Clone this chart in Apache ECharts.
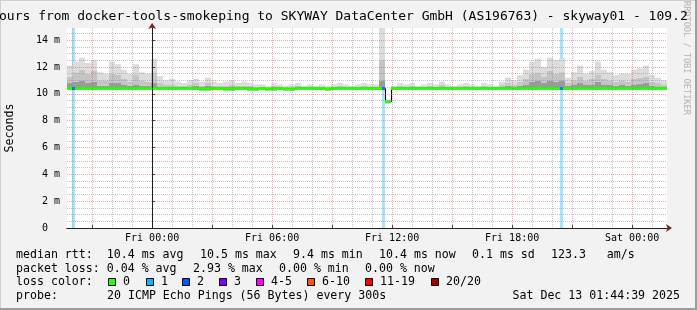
<!DOCTYPE html>
<html><head><meta charset="utf-8">
<script src="https://cdn.jsdelivr.net/npm/echarts@6/dist/echarts.min.js"></script>
<style>html,body{margin:0;padding:0;background:#f2f2f2}#c{width:697px;height:310px}</style>
</head><body><div id="c"></div>
<script>
// ---- data ----
const startHour = -4.2558;          // Thu 19:44:39, hours relative to Fri 00:00
const spanHours = 30;
const stepHours = 0.3;
const xLabelHours = [0, 6, 12, 18, 24];
const xLabelTexts = ['Fri 00:00', 'Fri 06:00', 'Fri 12:00', 'Fri 18:00', 'Sat 00:00'];
const yLabelValues = [0, 2, 4, 6, 8, 10, 12, 14];
const yLabelTexts = ['0  ', '2 m', '4 m', '6 m', '8 m', '10 m', '12 m', '14 m'];
const yMax = 14.9;

const median = [
 10.4,10.4,10.4,10.4,10.4,10.4,10.4,10.4,10.4,10.4,
 10.4,10.4,10.4,10.4,10.4,10.4,10.4,10.4,10.4,10.4,
 10.4,10.4,10.35,10.35,10.4,10.4,10.35,10.35,10.4,10.4,
 10.35,10.35,10.4,10.35,10.35,10.4,10.35,10.35,10.4,10.4,
 10.4,10.4,10.4,10.35,10.4,10.4,10.4,10.4,10.4,10.4,
 10.4,10.4,10.4,9.4,10.4,10.4,10.4,10.4,10.4,10.4,
 10.4,10.4,10.4,10.4,10.4,10.4,10.4,10.4,10.4,10.4,
 10.4,10.4,10.4,10.4,10.4,10.4,10.4,10.4,10.4,10.4,
 10.4,10.4,10.4,10.4,10.4,10.4,10.4,10.4,10.4,10.4,
 10.4,10.4,10.4,10.4,10.4,10.4,10.4,10.4,10.4,10.4];
const smokeLo = [
 10.3,10.3,10.3,10.3,10.3,10.3,10.3,10.3,10.3,10.3,
 10.3,10.3,10.3,10.3,10.3,10.3,10.3,10.3,10.3,10.3,
 10.3,10.3,10.25,10.25,10.3,10.3,10.25,10.25,10.3,10.3,
 10.25,10.25,10.3,10.25,10.25,10.3,10.25,10.25,10.3,10.3,
 10.3,10.3,10.3,10.25,10.3,10.3,10.3,10.3,10.3,10.3,
 10.3,10.3,10.3,9.3,10.3,10.3,10.3,10.3,10.3,10.3,
 10.3,10.3,10.3,10.3,10.3,10.3,10.3,10.3,10.3,10.3,
 10.3,10.3,10.3,10.3,10.3,10.3,10.3,10.3,10.3,10.3,
 10.3,10.3,10.3,10.3,10.3,10.3,10.3,10.3,10.3,10.3,
 10.3,10.3,10.3,10.3,10.3,10.3,10.3,10.3,10.3,10.3];
const smokeDark = [
 10.8,10.9,11.0,10.8,10.9,10.6,10.6,10.8,10.8,10.7,
 10.6,10.7,10.6,10.6,10.8,10.5,10.5,10.5,10.5,10.5,
 10.55,10.6,10.5,10.6,10.5,10.5,10.5,10.55,10.5,10.5,
 10.5,10.45,10.45,10.45,10.5,10.45,10.45,10.45,10.5,10.45,
 10.45,10.45,10.45,10.45,10.45,10.5,10.45,10.45,10.45,10.5,
 10.45,10.45,11.0,9.45,10.45,10.5,10.45,10.5,10.45,10.45,
 10.5,10.45,10.5,10.45,10.45,10.45,10.5,10.45,10.45,10.5,
 10.45,10.45,10.5,10.6,10.55,10.6,10.7,10.9,11.0,10.8,
 11.0,10.9,11.0,10.6,10.7,10.8,10.7,10.7,10.9,10.7,
 10.7,10.6,10.7,10.6,10.7,10.75,10.8,10.6,10.55,10.5];
const smokeMid = [
 11.3,11.6,11.8,11.5,11.7,11.0,11.0,11.5,11.4,11.1,
 10.9,11.4,11.0,10.9,11.6,10.8,10.7,10.7,10.6,10.6,
 10.7,10.8,10.6,10.8,10.6,10.6,10.6,10.7,10.6,10.6,
 10.6,10.55,10.55,10.5,10.6,10.55,10.5,10.55,10.6,10.5,
 10.55,10.5,10.55,10.5,10.55,10.6,10.55,10.5,10.55,10.6,
 10.55,10.55,12.5,9.5,10.5,10.6,10.55,10.6,10.5,10.55,
 10.6,10.55,10.65,10.55,10.5,10.55,10.6,10.55,10.5,10.6,
 10.55,10.5,10.65,10.8,10.7,10.9,11.1,11.5,11.6,11.3,
 11.7,11.5,11.6,10.8,11.0,11.3,11.0,11.1,11.4,11.1,
 11.0,10.9,11.0,10.9,11.1,11.2,11.3,10.9,10.8,10.7];
const smokeHi = [
 12.1,12.4,12.7,12.3,12.5,11.6,11.5,12.4,12.2,11.8,
 11.5,12.2,11.6,11.5,12.6,11.3,11.0,11.1,10.9,10.8,
 11.0,11.1,10.9,11.2,10.9,10.8,10.9,11.0,10.8,10.9,
 10.8,10.7,10.7,10.6,10.8,10.7,10.6,10.7,10.8,10.6,
 10.7,10.6,10.7,10.6,10.7,10.8,10.7,10.6,10.7,10.8,
 10.7,10.7,15.0,9.6,10.6,10.8,10.7,10.8,10.6,10.7,
 10.8,10.7,10.9,10.7,10.6,10.7,10.8,10.7,10.6,10.8,
 10.7,10.6,10.9,11.2,11.0,11.4,11.8,12.4,12.6,12.0,
 12.7,12.5,12.65,11.2,11.6,12.1,11.5,11.7,12.4,11.8,
 11.6,11.4,11.5,11.5,11.8,11.9,12.1,11.4,11.2,11.0];
const lossEvents = [[-4.0058, -3.8558], [11.494, 11.644], [20.394, 20.544]];
const lossMedian = [10.4, 10.4, 10.4];

const titleText = 'ours from docker-tools-smokeping to SKYWAY DataCenter GmbH (AS196763) - skyway01 - 109.2';
const legendRow1 = [[16, 'median rtt:  10.4 ms avg'], [200, '10.5 ms max'], [293, '9.4 ms min'], [379, '10.4 ms now'], [472, '0.1 ms sd'], [551, '123.3   am/s']];
const legendRow2 = [[16, 'packet loss: 0.04 % avg'], [193, '2.93 % max'], [279, '0.00 % min'], [365, '0.00 % now']];
const lossLabels = ['0', '1', '2', '3', '4-5', '6-10', '11-19', '20/20'];
const lossColors = ['#26ff00', '#00b8ff', '#0059ff', '#7e00ff', '#ff00ff', '#ff5500', '#ff0000', '#a00000'];
const lossBoxX = [108, 146, 182, 219, 256, 307, 365, 431];
const probeText = '20 ICMP Echo Pings (56 Bytes) every 300s';
const dateText = 'Sat Dec 13 01:44:39 2025';

// ---- build ----
const MONO = '"DejaVu Sans Mono", monospace';
const endHour = startHour + spanHours;
const times = median.map((_, i) => startHour + stepHours * i);

const minorH = [], majorH = [];
for (let h = Math.ceil(startHour); h <= endHour; h++) { if (h % 3 === 0) majorH.push(h); else minorH.push(h); }
const minorY = [], majorY = [];
for (let v = 0.5; v < yMax; v += 0.5) { if (v % 2 === 0) majorY.push(v); else minorY.push(v); }

const smokeColors = ['#9a9a9a', '#c4c4c4', '#dcdcdc'];
const rows = times.map((t, i) => [t, i + 1 < times.length ? times[i + 1] : endHour,
  smokeLo[i], smokeDark[i], smokeMid[i], smokeHi[i], median[i], i > 0 ? median[i - 1] : median[i]]);
const bandHalf = 0.11;

function rectBetween(params, api, t0, t1, v0, v1, color) {
  const a = api.coord([t0, v1]), b = api.coord([t1, v0]);
  const cs = params.coordSys;
  const shape = echarts.graphic.clipRectByRect({ x: a[0], y: a[1], width: b[0] - a[0], height: b[1] - a[1] },
    { x: cs.x, y: cs.y, width: cs.width, height: cs.height });
  return shape ? { type: 'rect', shape: shape, style: { fill: color } } : null;
}

const series = [];
series.push({
  type: 'custom', silent: true, z: 2, data: rows,
  encode: { x: [0, 1], y: [2, 5] },
  renderItem: (params, api) => {
    const t0 = api.value(0), t1 = api.value(1);
    const kids = [];
    for (let k = 0; k < 3; k++) {
      const r = rectBetween(params, api, t0, t1, api.value(2 + k), api.value(3 + k), smokeColors[k]);
      if (r) kids.push(r);
    }
    const med = api.value(6), prev = api.value(7);
    if (med !== prev) {
      const p = api.coord([t0, prev]), q = api.coord([t0, med]);
      const x = Math.round(p[0]) + 0.5;
      kids.push({ type: 'line', shape: { x1: x, y1: p[1], x2: x, y2: q[1] }, style: { stroke: '#000', lineWidth: 1 } });
    }
    const g = rectBetween(params, api, t0, t1, med - bandHalf, med + bandHalf, '#26ff00');
    if (g) kids.push(g);
    return { type: 'group', children: kids };
  },
  markArea: { silent: true, itemStyle: { color: '#a8e4ff' }, data: lossEvents.map(e => [{ xAxis: e[0] }, { xAxis: e[1] }]) }
});
lossEvents.forEach((e, k) => {
  series.push({ type: 'line', symbol: 'none', silent: true, z: 4,
    data: [[e[0], lossMedian[k]], [e[1], lossMedian[k]]], lineStyle: { width: 3, color: '#0a78ff' } });
});

const baseX = { type: 'value', min: startHour, max: endHour, axisLabel: { show: false }, axisTick: { show: false }, axisLine: { show: false }, splitLine: { show: false } };
const baseY = { type: 'value', min: 0, max: yMax, axisLabel: { show: false }, axisTick: { show: false }, axisLine: { show: false }, splitLine: { show: false } };

const gridLineMinor = { color: 'rgba(143,143,143,0.55)', width: 1, type: [1, 1] };
const gridLineMajor = { color: 'rgba(222,79,79,0.5)', width: 1, type: [1, 1] };

const xAxis = [
  Object.assign({}, baseX, { z: 6, axisLine: { show: true, lineStyle: { color: '#1f1f1f', width: 1 } },
    axisLabel: { show: true, customValues: xLabelHours, formatter: v => xLabelTexts[xLabelHours.indexOf(v)] || '',
      fontFamily: MONO, fontSize: 10, color: '#000', margin: 5 } }),
  Object.assign({}, baseX, { z: 3, axisTick: { show: false, customValues: minorH }, splitLine: { show: true, lineStyle: gridLineMinor } }),
  Object.assign({}, baseX, { z: 4, axisTick: { show: true, customValues: majorH, length: 3, lineStyle: { color: '#444' } }, splitLine: { show: true, lineStyle: gridLineMajor } }),
  Object.assign({}, baseX, { z: 5, axisLine: { show: true, lineStyle: { color: '#801f1f', width: 1 }, symbol: ['none', 'arrow'], symbolSize: [6, 6], symbolOffset: [0, 5] } })
];
const yAxis = [
  Object.assign({}, baseY, { z: 6, axisLine: { show: true, lineStyle: { color: '#1f1f1f', width: 1 } },
    axisLabel: { show: true, customValues: yLabelValues, formatter: v => yLabelTexts[yLabelValues.indexOf(v)] || '',
      fontFamily: MONO, fontSize: 10, color: '#000', margin: 7 } }),
  Object.assign({}, baseY, { z: 3, axisTick: { show: false, customValues: minorY }, splitLine: { show: true, lineStyle: gridLineMinor } }),
  Object.assign({}, baseY, { z: 4, axisTick: { show: true, customValues: majorY, length: 3, lineStyle: { color: '#444' } }, splitLine: { show: true, lineStyle: gridLineMajor } }),
  Object.assign({}, baseY, { z: 5, axisLine: { show: true, lineStyle: { color: '#801f1f', width: 1 }, symbol: ['none', 'arrow'], symbolSize: [6, 6], symbolOffset: [0, 5] } })
];

function txt(x, y, text, size, extra) {
  return Object.assign({ type: 'text', x: x, y: y, silent: true, z: 10,
    style: Object.assign({ text: text, font: size + 'px ' + MONO, fill: '#000', textVerticalAlign: 'middle', verticalAlign: 'middle' }, extra || {}) });
}
const graphic = [
  { type: 'rect', shape: { x: 0, y: 0, width: 697, height: 1 }, style: { fill: '#cfcfcf' }, silent: true },
  { type: 'rect', shape: { x: 0, y: 0, width: 1, height: 310 }, style: { fill: '#cfcfcf' }, silent: true },
  { type: 'rect', shape: { x: 0, y: 308, width: 697, height: 2 }, style: { fill: '#9e9e9e' }, silent: true },
  { type: 'rect', shape: { x: 695, y: 0, width: 2, height: 310 }, style: { fill: '#9e9e9e' }, silent: true },
  Object.assign(txt(686, 1, 'RRDTOOL / TOBI OETIKER', 8.6, { fill: '#b4b4b4', textAlign: 'left', align: 'left' }), { rotation: -Math.PI / 2 }),
  txt(-1, 17, titleText, 13),
  Object.assign(txt(10, 128, 'Seconds', 11.6, { textAlign: 'center', align: 'center' }), { rotation: Math.PI / 2 })
];
legendRow1.forEach(([x, t]) => graphic.push(txt(x, 255, t, 11.6)));
legendRow2.forEach(([x, t]) => graphic.push(txt(x, 268.5, t, 11.6)));
graphic.push(txt(16, 282, 'loss color:', 11.6));
lossLabels.forEach((l, k) => {
  graphic.push({ type: 'rect', silent: true, z: 10, shape: { x: lossBoxX[k] + 0.5, y: 278.5, width: 7, height: 7 },
    style: { fill: lossColors[k], stroke: '#000', lineWidth: 1 } });
  graphic.push(txt(lossBoxX[k] + 15, 282, l, 11.6));
});
graphic.push(txt(16, 296, 'probe:', 11.6));
graphic.push(txt(107, 296, probeText, 11.6));
graphic.push(txt(680, 296, dateText, 11.6, { textAlign: 'right', align: 'right' }));

const chart = echarts.init(document.getElementById('c'), null, { renderer: 'canvas', width: 697, height: 310 });
chart.setOption({
  animation: false,
  backgroundColor: '#f2f2f2',
  grid: { left: 67, top: 28, width: 600, height: 200, show: true, backgroundColor: '#ffffff', borderWidth: 0, containLabel: false },
  xAxis: xAxis,
  yAxis: yAxis,
  series: series,
  graphic: graphic
});
</script></body></html>
